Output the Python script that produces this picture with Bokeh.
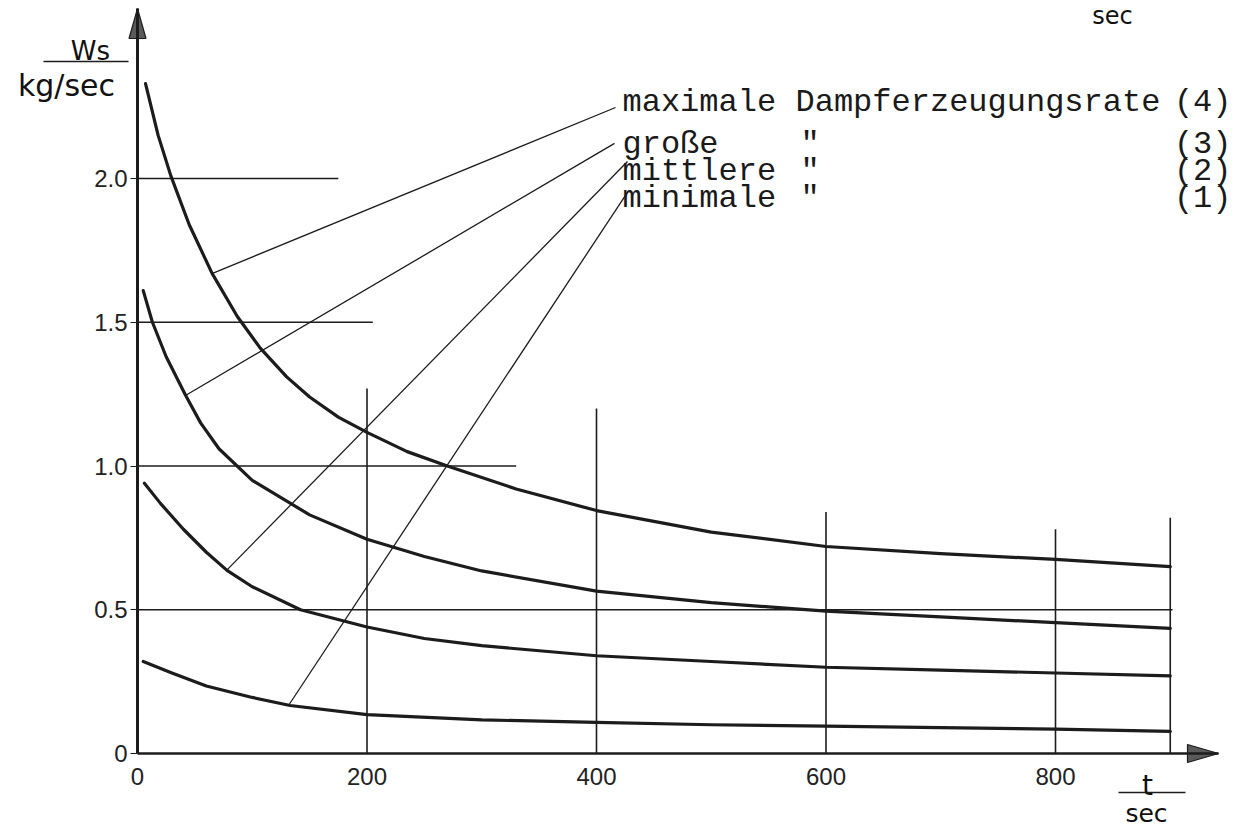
from bokeh.plotting import figure
from bokeh.models import Range1d, FixedTicker
from bokeh.core.properties import value
from bokeh.embed import file_html
from bokeh.resources import INLINE

# ---------------- data ----------------
t_max = [7, 18, 29, 45, 65, 87, 107, 130, 150, 175, 200, 235, 270, 330, 400, 500, 600, 700, 800, 900]
w_max = [2.33, 2.15, 2.01, 1.84, 1.67, 1.52, 1.41, 1.31, 1.24, 1.17, 1.117, 1.05, 1.0, 0.92, 0.845, 0.77, 0.72, 0.695, 0.675, 0.65]

t_gross = [5, 13, 25, 42, 55, 71, 100, 150, 200, 250, 300, 400, 500, 600, 700, 800, 900]
w_gross = [1.61, 1.5, 1.38, 1.245, 1.15, 1.06, 0.95, 0.83, 0.745, 0.685, 0.635, 0.565, 0.525, 0.495, 0.475, 0.455, 0.435]

t_mittel = [6, 20, 40, 60, 78, 100, 142, 200, 250, 300, 400, 500, 600, 700, 800, 900]
w_mittel = [0.94, 0.87, 0.78, 0.70, 0.637, 0.58, 0.5, 0.44, 0.40, 0.375, 0.34, 0.32, 0.30, 0.29, 0.28, 0.27]

t_min = [5, 30, 60, 100, 133, 200, 300, 400, 500, 600, 700, 800, 900]
w_min = [0.32, 0.28, 0.235, 0.195, 0.167, 0.135, 0.117, 0.108, 0.10, 0.095, 0.09, 0.085, 0.077]

x_ticks = [0, 200, 400, 600, 800]
y_ticks = [0, 0.5, 1.0, 1.5, 2.0]
y_tick_labels = ["0", "0.5", "1.0", "1.5", "2.0"]

# partial grid lines
hgrid_y = [2.0, 1.5, 1.0, 0.5]
hgrid_end = [175, 205, 330, 902]
vgrid_x = [200, 400, 600, 800, 900]
vgrid_top = [1.27, 1.2, 0.84, 0.78, 0.82]

# leader lines: from curve point to label
leader_x0 = [65.4, 41.8, 77.6, 131.6]
leader_y0 = [1.670, 1.245, 0.637, 0.167]
leader_x1 = [416.6, 415.7, 427.0, 428.0]
leader_y1 = [2.247, 2.122, 2.059, 1.958]

label_first = ["maximale", "große", "mittlere", "minimale"]
label_second = ["Dampferzeugungsrate", '"', '"', '"']
label_nums = ["(4)", "(3)", "(2)", "(1)"]

# ---------------- layout ----------------
W, H = 1238, 829
OX, OY = 137, 753      # pixel position of the origin
PXX = 1.1475           # px per second
PXY = 287.5            # px per kg/sec unit


def X(px):
    return (px - OX) / PXX


def Y(py):
    return (OY - py) / PXY


p = figure(width=W, height=H, output_backend="svg", toolbar_location=None,
           x_range=Range1d(X(0), X(W)), y_range=Range1d(Y(H), Y(0)),
           min_border=0)
p.min_border_left = p.min_border_right = p.min_border_top = p.min_border_bottom = 0
p.outline_line_color = None
p.grid.visible = False
p.background_fill_color = "white"
p.border_fill_color = "white"

INK = "#1c1c1c"
x_axis_end = X(1218)
y_axis_end = Y(8)

# axes through the origin
p.xaxis.fixed_location = 0
p.yaxis.fixed_location = 0
p.xaxis.bounds = (0, x_axis_end)
p.yaxis.bounds = (0, y_axis_end)
p.xaxis.ticker = FixedTicker(ticks=x_ticks)
p.yaxis.ticker = FixedTicker(ticks=y_ticks)
p.yaxis.major_label_overrides = {t: s for t, s in zip(y_ticks, y_tick_labels)}
for ax in (p.xaxis, p.yaxis):
    ax.axis_line_color = INK
    ax.minor_tick_line_color = None
    ax.major_label_text_font = "Liberation Sans"
    ax.major_label_text_font_size = "24px"
    ax.major_label_text_color = "#222222"
p.xaxis.axis_line_width = 2.5
p.yaxis.axis_line_width = 3
p.xaxis.major_tick_out = 0
p.xaxis.major_tick_in = 0
p.xaxis.major_label_standoff = 14
p.yaxis.major_tick_out = 7
p.yaxis.major_tick_in = 0
p.yaxis.major_tick_line_color = INK
p.yaxis.major_tick_line_width = 1.2
p.yaxis.major_label_standoff = 3

# partial grid lines
p.segment(x0=[0] * len(hgrid_y), y0=hgrid_y, x1=hgrid_end, y1=hgrid_y,
          line_color=INK, line_width=1.3)
p.segment(x0=vgrid_x, y0=[0] * len(vgrid_x), x1=vgrid_x, y1=vgrid_top,
          line_color=INK, line_width=1.6)

# curves
for tt, ww in ((t_max, w_max), (t_gross, w_gross), (t_mittel, w_mittel), (t_min, w_min)):
    p.line(tt, ww, line_color=INK, line_width=3.2, line_join="round", line_cap="round")

# leader lines
p.segment(x0=leader_x0, y0=leader_y0, x1=leader_x1, y1=leader_y1,
          line_color=INK, line_width=1.3)

# curve labels (typewriter)
base_py = [102, 144, 171, 198]
mono = value("Liberation Mono")
fs = "32px"
p.text(x=[X(622)] * 4, y=[Y(b) for b in base_py], text=label_first,
       text_font=mono, text_font_size=fs, text_baseline="alphabetic",
       text_align="left", text_color="#1a1a1a")
p.text(x=[X(795), X(800), X(800), X(800)], y=[Y(b) for b in base_py], text=label_second,
       text_font=mono, text_font_size=fs, text_baseline="alphabetic",
       text_align="left", text_color="#1a1a1a")
p.text(x=[X(1231)] * 4, y=[Y(b) for b in base_py], text=label_nums,
       text_font=mono, text_font_size=fs, text_baseline="alphabetic",
       text_align="right", text_color="#1a1a1a")

# arrow heads of the axes
hw = 8.5 / PXX
p.patch([0, -hw, hw], [y_axis_end, Y(38), Y(38)],
        fill_color="#5a5a5a", line_color=INK, line_width=1.2)
hh = 9 / PXY
p.patch([x_axis_end, X(1187), X(1187)], [0, hh, -hh],
        fill_color="#5a5a5a", line_color=INK, line_width=1.2)

# axis units
sans = value("DejaVu Sans")
p.text(x=[X(90)], y=[Y(50)], text=["Ws"], text_font=sans, text_font_size="26px",
       text_align="center", text_baseline="alphabetic", text_color="#111111")
p.segment(x0=[X(43)], y0=[Y(61)], x1=[X(128)], y1=[Y(61)], line_color=INK, line_width=1.5)
p.text(x=[X(66)], y=[Y(85)], text=["kg/sec"], text_font=sans, text_font_size="30px",
       text_align="center", text_baseline="alphabetic", text_color="#111111")

p.text(x=[X(1147)], y=[Y(785)], text=["t"], text_font=sans, text_font_size="28px",
       text_align="center", text_baseline="alphabetic", text_color="#111111")
p.segment(x0=[X(1118)], y0=[Y(792)], x1=[X(1185)], y1=[Y(792)], line_color=INK, line_width=1.5)
p.text(x=[X(1146)], y=[Y(813)], text=["sec"], text_font=sans, text_font_size="25px",
       text_align="center", text_baseline="alphabetic", text_color="#111111")

# fragment at the top edge
p.text(x=[X(1112)], y=[Y(15)], text=["sec"], text_font=sans, text_font_size="24px",
       text_align="center", text_baseline="alphabetic", text_color="#111111")

open("out.html", "w").write(file_html(p, INLINE))
